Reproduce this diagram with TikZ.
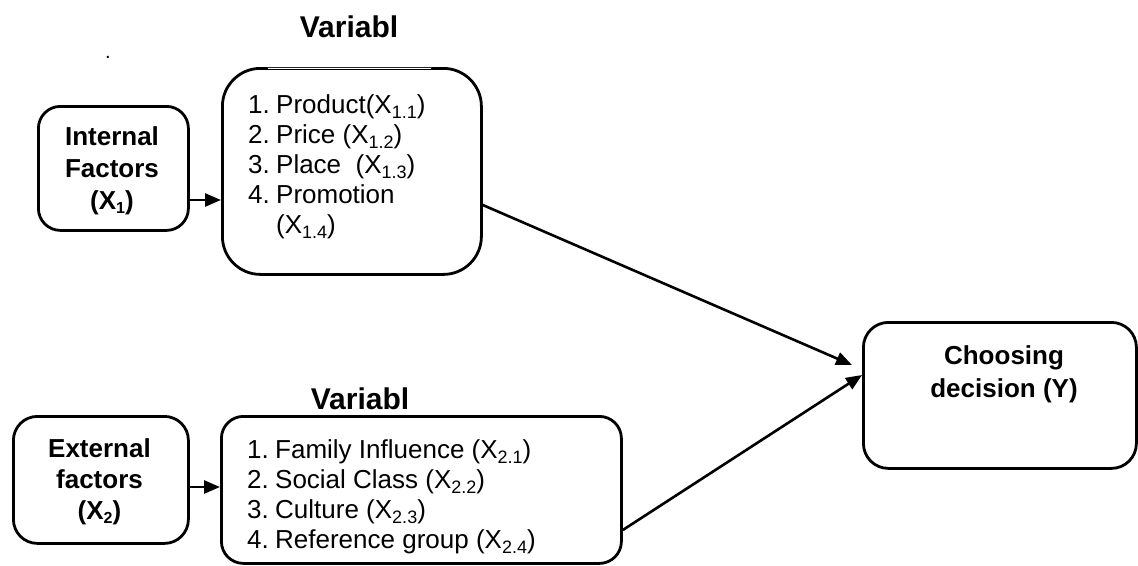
\documentclass[tikz,border=0pt]{standalone}
\usepackage{fontspec}
\setmainfont{Liberation Sans}
\usetikzlibrary{arrows.meta}
\newcommand\lowx[1]{\raisebox{-5pt}{\fontsize{18}{18}\selectfont #1}}
\newcommand\lowb[1]{\raisebox{-4pt}{\fontsize{16}{16}\selectfont #1}}
\newcommand\itm[1]{\makebox[28pt][l]{#1}}
\begin{document}
\begin{tikzpicture}[x=1pt,y=-1pt,
  box/.style={draw, line width=2.8pt, rounded corners=#1, inner sep=0pt, anchor=north west},
  box/.default=22pt,
  body/.style={font=\fontsize{26}{30}\selectfont, inner sep=0pt, anchor=base west},
  hd/.style={font=\fontsize{26}{#1}\bfseries\selectfont, inner sep=0pt, anchor=base},
  hd/.default=32,
  ttl/.style={font=\fontsize{30}{36}\bfseries\selectfont, inner sep=0pt, anchor=base},
  arr/.style={line width=2.6pt, -{Triangle[length=16pt,width=13pt]}}]
\useasboundingbox (0,0) rectangle (1138,565);

% boxes
\node[box=22pt, minimum width=150pt, minimum height=124pt] (int) at (37,105) {};
\node[box=38pt, minimum width=259pt, minimum height=206pt] (v1) at (221,67) {};
\node[box=24pt, minimum width=175pt, minimum height=127pt] (ext) at (12,415) {};
\node[box=22pt, minimum width=400pt, minimum height=147pt] (v2) at (220,415) {};
\node[box=25pt, minimum width=273pt, minimum height=146pt] (ch) at (862,321) {};

% thinner middle of the top edge of the first variable box
\draw[white, line width=4pt] ([xshift=47pt]v1.north west) -- ([xshift=-52pt]v1.north east);
\draw[black!85, line width=0.9pt] ([xshift=46pt]v1.north west) -- ([xshift=-51pt]v1.north east);

% titles
\node[ttl] (vt1) at (349,37) {Variabl};
\node[ttl] (vt2) at (360,409) {Variabl};
\node[font=\fontsize{20}{20}\selectfont, inner sep=0pt] (dot) at (108,57) {.};

% factor texts
\node[hd] (intt) at (112,145) {\begin{tabular}[t]{@{}c@{}}Internal\\Factors\\(X\lowb{1})\end{tabular}};
\node[hd=31] (extt) at (99.5,457) {\begin{tabular}[t]{@{}c@{}}External\\factors\\(X\lowb{2})\end{tabular}};
\node[hd=33] (cht) at (1004,364) {\begin{tabular}[t]{@{}c@{}}Choosing\\decision (Y)\end{tabular}};

% variable lists
\node[body] (v1t) at (248,113) {\begin{tabular}[t]{@{}l@{}}
\itm{1.}Product(X\lowx{1.1})\\
\itm{2.}Price (X\lowx{1.2})\\
\itm{3.}Place~~(X\lowx{1.3})\\
\itm{4.}Promotion\\
\itm{}(X\lowx{1.4})
\end{tabular}};
\begin{scope}
\clip (200,420) rectangle (640,553);
\node[body] (v2t) at (247,458) {\begin{tabular}[t]{@{}l@{}}
\itm{1.}Family Influence (X\lowx{2.1})\\
\itm{2.}Social Class (X\lowx{2.2})\\
\itm{3.}Culture (X\lowx{2.3})\\
\itm{4.}Reference group (X\lowx{2.4})
\end{tabular}};
\end{scope}

% connectors
\coordinate (t1) at (852,365);
\draw[arr] (int.east |- 0,200) -- (v1.west |- 0,200);
\draw[arr] (ext.east |- 0,487) -- (v2.west |- 0,487);
\draw[arr] (v1.east |- 0,205) -- (t1);
\draw[arr] (v2.east |- 0,530) -- (ch.west |- 0,375);
\end{tikzpicture}
\end{document}
